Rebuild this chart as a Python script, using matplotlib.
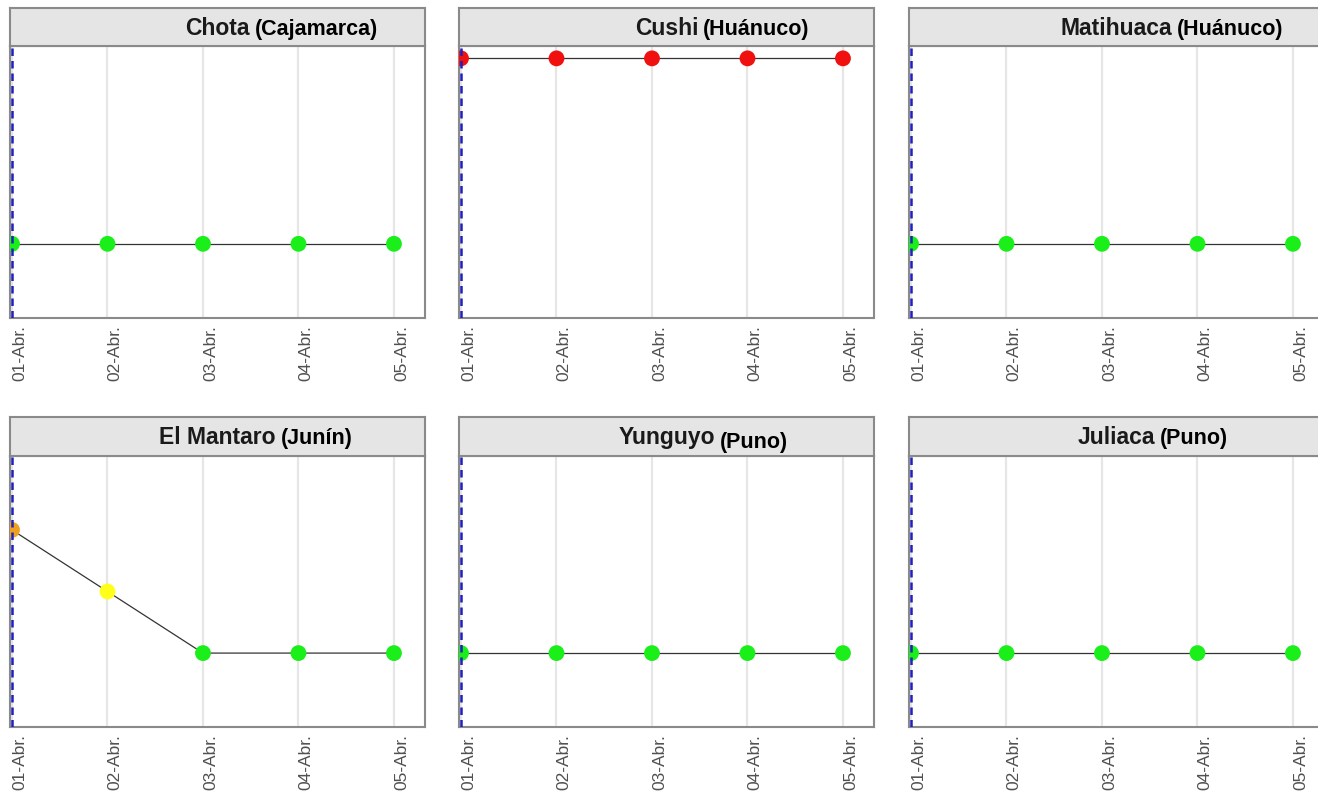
import matplotlib
matplotlib.use("Agg")
import matplotlib.pyplot as plt

# ---- data ----
dates = ["01-Abr.", "02-Abr.", "03-Abr.", "04-Abr.", "05-Abr."]
stations = ["Chota", "Cushi", "Matihuaca", "El Mantaro", "Yunguyo", "Juliaca"]
regions = ["(Cajamarca)", "(Huánuco)", "(Huánuco)", "(Junín)", "(Puno)", "(Puno)"]
chota = [1, 1, 1, 1, 1]
cushi = [4, 4, 4, 4, 4]
matihuaca = [1, 1, 1, 1, 1]
el_mantaro = [3, 2, 1, 1, 1]
yunguyo = [1, 1, 1, 1, 1]
juliaca = [1, 1, 1, 1, 1]
series = [chota, cushi, matihuaca, el_mantaro, yunguyo, juliaca]
level_colors = {1: "#1aef1a", 2: "#ffff1a", 3: "#f0a020", 4: "#f01010"}
region_dy = [0, 0, 0, 0, -4, 0]  # small vertical offset (px) of region label

plt.rcParams['font.family'] = ['Liberation Sans', 'DejaVu Sans']

W, H = 1318, 793
fig = plt.figure(figsize=(W / 100, H / 100), dpi=100)

col_left = [10, 459, 909]
pw = 415
rows = [(46, 318, 8), (456, 727, 417)]  # panel top, panel bottom, strip top

xs = list(range(len(dates)))
for i, (name, reg, vals) in enumerate(zip(stations, regions, series)):
    r, c = divmod(i, 3)
    ptop, pbot, stop = rows[r]
    left = col_left[c]
    ax = fig.add_axes([left / W, (H - pbot) / H, pw / W, (pbot - ptop) / H])
    ax.set_xlim(-0.021, 4.325)
    ax.set_ylim(-0.2, 4.2)
    ax.set_xticks(xs)
    ax.set_xticklabels(dates, rotation=90, fontsize=12.5, color="#505050",
                       ha='left')
    ax.set_yticks([])
    ax.tick_params(axis='x', length=0, pad=5)
    ax.grid(axis='x', color="#e6e6e6", linewidth=1.6, zorder=0)
    ax.set_axisbelow(True)
    for sp in ax.spines.values():
        sp.set_color("#8a8a8a")
        sp.set_linewidth(1.5)
    ax.plot(xs, vals, color="#333333", linewidth=0.9, zorder=2)
    ax.scatter(xs, vals, s=130, c=[level_colors[v] for v in vals],
               edgecolors='none', zorder=3)
    ax.axvline(0, color="#2020c0", linestyle=(0, (3, 2)), linewidth=1.8, zorder=4)

    # strip
    sax = fig.add_axes([left / W, (H - ptop) / H, pw / W, (ptop - stop) / H])
    sax.set_facecolor("#e5e5e5")
    sax.set_xticks([])
    sax.set_yticks([])
    sax.set_xlim(0, 1)
    sax.set_ylim(0, 1)
    for sp in sax.spines.values():
        sp.set_color("#8a8a8a")
        sp.set_linewidth(1.5)
    t = sax.text(0.5, 0.47, name, ha='center', va='center', fontsize=16.5,
                 fontweight='bold', color="#1a1a1a")
    sax.annotate(reg, xy=(1, 0), xycoords=t, xytext=(5, region_dy[i]),
                 textcoords='offset pixels', ha='left', va='bottom',
                 fontsize=15.5, fontweight='bold', color="black")

fig.savefig("out.png", dpi=100)
